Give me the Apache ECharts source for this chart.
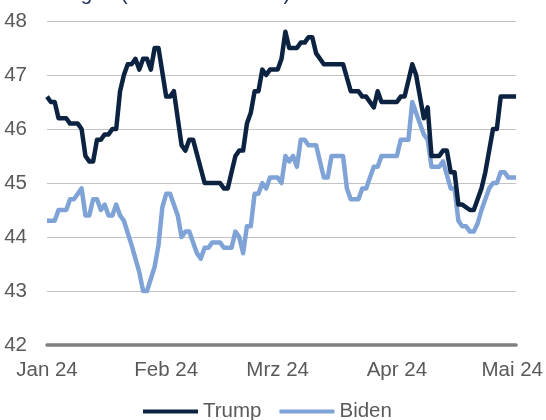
<!DOCTYPE html>
<html>
<head>
<meta charset="utf-8">
<script src="https://cdn.jsdelivr.net/npm/echarts@6/dist/echarts.min.js"></script>
<style>
html,body{margin:0;padding:0;background:#fff;}
#chart{width:546px;height:420px;}
</style>
</head>
<body>
<div id="chart"></div>
<script>
// Days since 1 Jan 2024 (0 = 1 Jan) and poll values (%) at the line's vertices
var startDate = '2024-01-01';
var dayCount = 123;
var monthLabels = ['Jan 24', 'Feb 24', 'Mrz 24', 'Apr 24', 'Mai 24'];
var seriesNames = ['Trump', 'Biden'];

var trumpDays = [0,1,2,3,5,6,8,9,10,11,12,13,14,15,16,17,18,19,20,21,22,23,24,25,26,27,28,29,31,32,33,35,36,37,38,41,45,46,47,48,49,50,51,52,53,54,55,56,57,58,60,61,62,63,65,66,67,68,69,70,71,72,77,79,81,82,83,85,86,87,91,92,93,94,95,96,97,98,99,100,102,103,104,105,106,107,108,110,111,113,114,115,116,117,118,122];
var trumpValues = [46.6,46.5,46.5,46.2,46.2,46.1,46.1,46.0,45.5,45.4,45.4,45.8,45.8,45.9,45.9,46.0,46.0,46.7,47.0,47.2,47.2,47.3,47.1,47.3,47.3,47.1,47.5,47.5,46.6,46.6,46.7,45.7,45.6,45.8,45.8,45.0,45.0,44.9,44.9,45.2,45.5,45.6,45.6,46.1,46.3,46.7,46.7,47.1,47.0,47.1,47.1,47.3,47.8,47.5,47.5,47.6,47.6,47.7,47.7,47.4,47.3,47.2,47.2,46.7,46.7,46.6,46.6,46.4,46.7,46.5,46.5,46.6,46.6,46.9,47.2,47.0,46.6,46.2,46.4,45.5,45.5,45.6,45.6,45.2,45.2,44.6,44.6,44.5,44.5,44.9,45.2,45.6,46.0,46.0,46.6,46.6];

var bidenDays = [0,2,3,5,6,7,9,10,11,12,13,14,15,16,17,18,19,20,22,24,25,26,28,29,30,31,32,33,34,35,36,37,38,39,40,41,42,43,45,46,48,49,50,51,52,53,54,55,56,57,58,60,61,62,63,64,65,66,67,68,70,71,72,73,74,77,78,79,81,82,83,84,85,86,87,91,92,94,95,98,99,100,102,103,104,105,106,107,108,109,110,111,112,113,114,115,116,117,118,119,120,122];
var bidenValues = [44.3,44.3,44.5,44.5,44.7,44.7,44.9,44.4,44.4,44.7,44.7,44.5,44.6,44.4,44.4,44.6,44.4,44.3,43.85,43.35,43.0,43.0,43.45,43.85,44.55,44.8,44.8,44.6,44.4,44.0,44.1,44.1,43.9,43.7,43.6,43.8,43.8,43.9,43.9,43.8,43.8,44.1,44.0,43.7,44.2,44.2,44.8,44.8,45.0,44.9,45.1,45.1,45.0,45.5,45.4,45.5,45.3,45.8,45.8,45.7,45.7,45.4,45.1,45.1,45.5,45.5,44.9,44.7,44.7,44.9,44.9,45.1,45.3,45.3,45.5,45.5,45.8,45.8,46.5,45.9,45.8,45.3,45.3,45.4,45.15,44.9,44.9,44.3,44.2,44.2,44.1,44.1,44.25,44.5,44.7,44.9,45.0,45.0,45.2,45.2,45.1,45.1];

var yMin = 42, yMax = 48, yStep = 1;

// category axis: one category per day
var categories = [];
var t0 = new Date(startDate + 'T00:00:00Z').getTime();
for (var i = 0; i < dayCount; i++) {
  categories.push(new Date(t0 + i * 86400000).toISOString().slice(0, 10));
}
function pairs(days, vals) {
  return days.map(function (d, k) { return [d, vals[k]]; });
}

var chart = echarts.init(document.getElementById('chart'), null, {renderer: 'canvas'});
var labelFont = {fontFamily: 'Liberation Sans, Arial, sans-serif', fontSize: 20.5, color: '#595959'};

chart.setOption({
  animation: false,
  backgroundColor: '#ffffff',
  title: {
    text: 'Umfragen (RealClearPolitics)',
    left: 20,
    top: -21,
    textStyle: {fontFamily: 'Liberation Sans, Arial, sans-serif', fontSize: 20.5, fontWeight: 'normal', color: '#1f2f63'}
  },
  grid: {left: 47, right: 27, top: 21, bottom: 75, containLabel: false},
  legend: {
    data: seriesNames,
    left: 138,
    top: 396,
    icon: 'rect',
    itemWidth: 55,
    itemHeight: 4,
    itemGap: 18,
    textStyle: labelFont
  },
  xAxis: {
    type: 'category',
    data: categories,
    boundaryGap: false,
    axisLine: {show: true, lineStyle: {color: '#808080', width: 3.5}},
    axisTick: {show: false},
    splitLine: {show: false},
    axisLabel: Object.assign({
      margin: 15,
      interval: function (idx, val) { return val.slice(8, 10) === '01'; },
      formatter: function (val) { return monthLabels[parseInt(val.slice(5, 7), 10) - 1]; }
    }, labelFont)
  },
  yAxis: {
    type: 'value',
    min: yMin,
    max: yMax,
    interval: yStep,
    axisLine: {show: false},
    axisTick: {show: false},
    splitLine: {lineStyle: {color: '#c3c3c3', width: 1}},
    axisLabel: Object.assign({margin: 20}, labelFont)
  },
  series: [
    {
      name: 'Biden',
      type: 'line',
      data: pairs(bidenDays, bidenValues),
      showSymbol: false,
      symbol: 'none',
      z: 2,
      lineStyle: {color: '#7fa3d7', width: 4.5, join: 'round'},
      itemStyle: {color: '#7fa3d7'}
    },
    {
      name: 'Trump',
      type: 'line',
      data: pairs(trumpDays, trumpValues),
      showSymbol: false,
      symbol: 'none',
      z: 3,
      lineStyle: {color: '#0b2240', width: 4.5, join: 'round'},
      itemStyle: {color: '#0b2240'}
    }
  ]
});
</script>
</body>
</html>
